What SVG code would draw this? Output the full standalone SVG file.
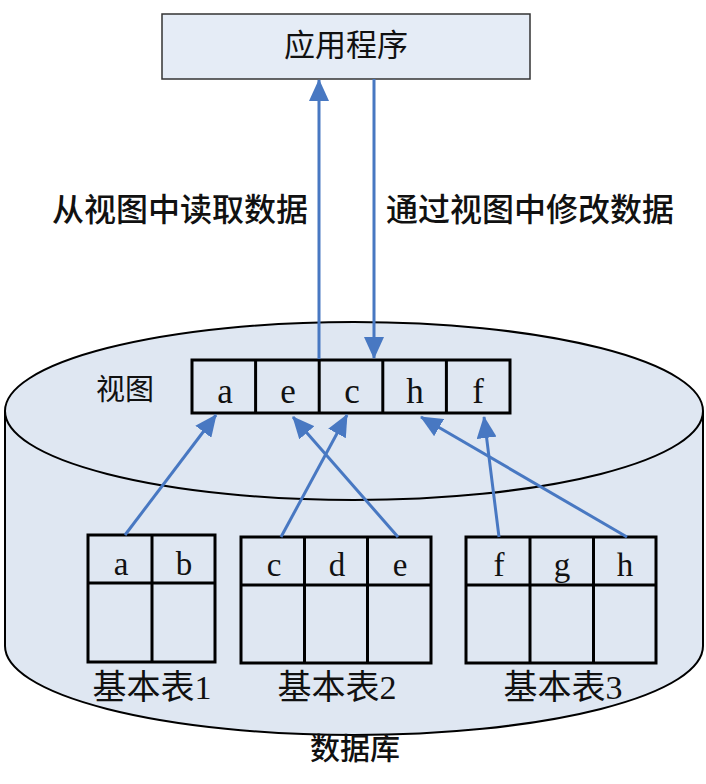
<svg xmlns="http://www.w3.org/2000/svg" width="706" height="784" viewBox="0 0 706 784">
<style>
.cjk{font-family:"Noto Sans CJK SC","Liberation Sans",sans-serif;fill:#111}
.ser{font-family:"Liberation Serif","Noto Sans CJK SC",serif;fill:#111}
.cell{fill:none;stroke:#000;stroke-width:3}
.conn{stroke:#4878c2;stroke-width:3;fill:none}
</style>
<defs>
<marker id="ah" markerUnits="userSpaceOnUse" markerWidth="22" markerHeight="20" viewBox="0 0 22 20" refX="21" refY="10" orient="auto">
<path d="M0,0 L22,10 L0,20 Z" fill="#4878c2"/>
</marker>
</defs>
<rect width="706" height="784" fill="#fff"/>
<g id="database">
<path d="M5,411 V646 A349,89 0 0 0 703,646 V411 Z" fill="#dfe7f2"/>
<path d="M5,411 V646 A349,89 0 0 0 703,646 V411" fill="none" stroke="#000" stroke-width="2"/>
<ellipse cx="354" cy="411" rx="349" ry="89" fill="#dfe7f2" stroke="#000" stroke-width="2"/>
<text class="cjk" x="355" y="759" font-size="30" font-weight="500" text-anchor="middle">数据库</text>
</g>
<g id="app">
<rect x="162" y="14" width="368" height="65" fill="#e5ecf6" stroke="#333" stroke-width="1.5"/>
<text class="cjk" x="346" y="56" font-size="31" text-anchor="middle">应用程序</text>
</g>
<g id="view">
<text class="cjk" x="125" y="400" font-size="29" text-anchor="middle">视图</text>
<rect class="cell" x="192" y="360" width="318" height="53"/>
<line class="cell" x1="255.6" y1="360" x2="255.6" y2="413"/>
<line class="cell" x1="319.2" y1="360" x2="319.2" y2="413"/>
<line class="cell" x1="382.8" y1="360" x2="382.8" y2="413"/>
<line class="cell" x1="446.4" y1="360" x2="446.4" y2="413"/>
<g class="ser" font-size="35" text-anchor="middle">
<text x="225" y="403">a</text>
<text x="288" y="403">e</text>
<text x="352" y="403">c</text>
<text x="415" y="403">h</text>
<text x="478" y="403">f</text>
</g>
</g>
<g id="table1">
<rect class="cell" x="88" y="535" width="127" height="127"/>
<line class="cell" x1="88" y1="583" x2="215" y2="583"/>
<line class="cell" x1="152" y1="535" x2="152" y2="662"/>
<g class="ser" font-size="33" text-anchor="middle">
<text x="121" y="575">a</text>
<text x="184" y="575">b</text>
</g>
<text class="cjk" x="152" y="699" font-size="34" text-anchor="middle">基本表<tspan class="ser">1</tspan></text>
</g>
<g id="table2">
<rect class="cell" x="241" y="537" width="190" height="126"/>
<line class="cell" x1="241" y1="585" x2="431" y2="585"/>
<line class="cell" x1="304.5" y1="537" x2="304.5" y2="663"/>
<line class="cell" x1="367.5" y1="537" x2="367.5" y2="663"/>
<g class="ser" font-size="33" text-anchor="middle">
<text x="274" y="576">c</text>
<text x="337" y="576">d</text>
<text x="400" y="576">e</text>
</g>
<text class="cjk" x="337" y="699" font-size="34" text-anchor="middle">基本表<tspan class="ser">2</tspan></text>
</g>
<g id="table3">
<rect class="cell" x="466" y="537" width="190" height="126"/>
<line class="cell" x1="466" y1="585" x2="656" y2="585"/>
<line class="cell" x1="530" y1="537" x2="530" y2="663"/>
<line class="cell" x1="593.5" y1="537" x2="593.5" y2="663"/>
<g class="ser" font-size="33" text-anchor="middle">
<text x="499" y="576">f</text>
<text x="562" y="576">g</text>
<text x="625" y="576">h</text>
</g>
<text class="cjk" x="563" y="699" font-size="34" text-anchor="middle">基本表<tspan class="ser">3</tspan></text>
</g>
<g id="connectors">
<line class="conn" x1="319" y1="359" x2="319" y2="80" marker-end="url(#ah)"/>
<line class="conn" x1="374" y1="79" x2="374" y2="358" marker-end="url(#ah)"/>
<line class="conn" x1="125" y1="535" x2="216" y2="415" marker-end="url(#ah)"/>
<line class="conn" x1="281" y1="537" x2="347" y2="415" marker-end="url(#ah)"/>
<line class="conn" x1="398" y1="537" x2="293" y2="417" marker-end="url(#ah)"/>
<line class="conn" x1="499" y1="537" x2="484" y2="417" marker-end="url(#ah)"/>
<line class="conn" x1="627" y1="537" x2="421" y2="417" marker-end="url(#ah)"/>
<text class="cjk" x="180" y="221" font-size="32" font-weight="500" text-anchor="middle">从视图中读取数据</text>
<text class="cjk" x="530" y="221" font-size="32" font-weight="500" text-anchor="middle">通过视图中修改数据</text>
</g>
</svg>
